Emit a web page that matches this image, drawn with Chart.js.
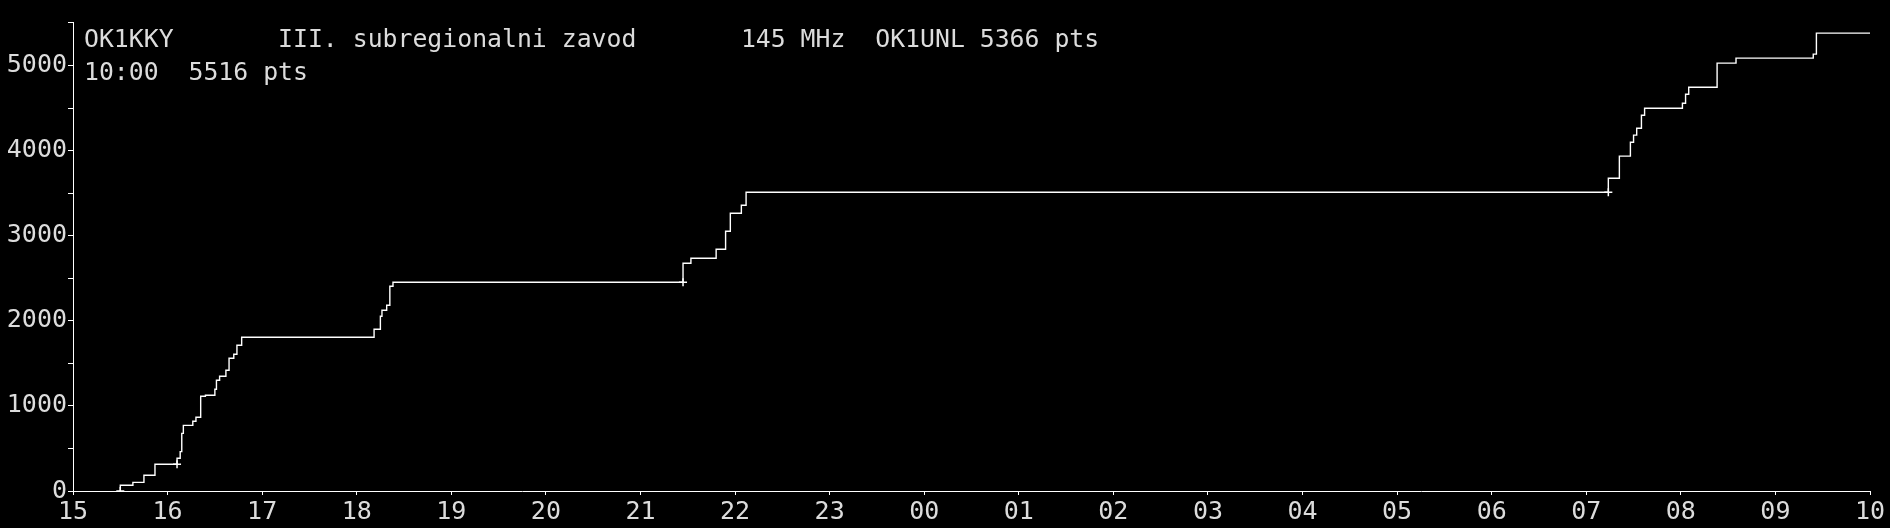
<!DOCTYPE html>
<html>
<head>
<meta charset="utf-8">
<script src="https://cdn.jsdelivr.net/npm/chart.js@4/dist/chart.umd.min.js"></script>
<style>
html,body{margin:0;padding:0;background:#000;overflow:hidden;}
#wrap{width:1890px;height:528px;position:relative;}
</style>
</head>
<body>
<div id="wrap"><canvas id="c"></canvas></div>
<script>
// ---- data ----
const startHour = 15;
const hourLabels = ["15","16","17","18","19","20","21","22","23","00","01","02","03","04","05","06","07","08","09","10"];
const times = ["15:30","15:30","15:38","15:45","15:52","16:06","16:08","16:09","16:10","16:16","16:18","16:21","16:24","16:30","16:31","16:33","16:37","16:39","16:42","16:44","16:47",
  "18:11","18:15","18:16","18:19","18:21","18:23",
  "21:27","21:32","21:48","21:54","21:57","22:04","22:07",
  "07:14","07:21","07:28","07:30","07:32","07:35","07:37","08:01","08:03","08:05","08:23","08:35","09:24","09:26","10:00"];
const scores = [0,67,102,185,314,385,463,678,772,820,867,1114,1126,1196,1302,1349,1420,1561,1608,1714,1808,
  1902,2055,2126,2185,2408,2455,
  2679,2738,2843,3055,3267,3361,3514,
  3679,3938,4102,4185,4267,4420,4502,4561,4667,4749,5032,5091,5138,5385,5385];
const markTimes = ["15:30","16:06","21:27","07:14"];
const markScores = [0,314,2455,3514];
const yTicks = [0,500,1000,1500,2000,2500,3000,3500,4000,4500,5000,5516];
const yMax = 5516;
const titleLine1 = "OK1KKY       III. subregionalni zavod       145 MHz  OK1UNL 5366 pts";
const titleLine2 = "10:00  5516 pts";

function toMin(t){
  const [h,m] = t.split(":").map(Number);
  let hh = h - startHour; if (hh < 0) hh += 24;
  return hh*60 + m;
}
const linePts = times.map((t,i)=>({x:toMin(t), y:scores[i]}));
const markPts = markTimes.map((t,i)=>({x:toMin(t), y:markScores[i]}));

const FONT = '"DejaVu Sans Mono", monospace';
const TXT = '#dcdcdc';

const bgPlugin = {
  id:'bg',
  beforeDraw(chart){
    const ctx = chart.ctx;
    ctx.save(); ctx.fillStyle='#000'; ctx.fillRect(0,0,chart.width,chart.height); ctx.restore();
  },
  afterDraw(chart){
    const ctx = chart.ctx;
    ctx.save();
    ctx.font = '24.8px ' + FONT;
    ctx.fillStyle = TXT;
    ctx.textBaseline = 'alphabetic';
    ctx.textAlign = 'left';
    ctx.fillText(titleLine1, 84, 47);
    ctx.fillText(titleLine2, 84, 80);
    ctx.restore();
  }
};

new Chart(document.getElementById('c'), {
  type:'line',
  data:{
    datasets:[
      {data:linePts, borderColor:'#fff', borderWidth:1.4, stepped:'before', pointRadius:0, fill:false},
      {type:'scatter', data:markPts, borderColor:'#fff', backgroundColor:'#fff', pointStyle:'cross', pointRadius:4, borderWidth:1.5, showLine:false}
    ]
  },
  options:{
    responsive:true, maintainAspectRatio:false, animation:false, devicePixelRatio:1,
    layout:{padding:{top:22,right:20,left:0,bottom:0}},
    plugins:{legend:{display:false}, tooltip:{enabled:false}},
    scales:{
      x:{
        type:'linear', min:0, max:1140,
        afterFit(s){ s.height = 37; },
        afterBuildTicks(s){ s.ticks = hourLabels.map((_,i)=>({value:i*60})); },
        ticks:{
          autoSkip:false, maxRotation:0, padding:2, color:TXT,
          font:{family:FONT, size:25},
          callback:(v)=>hourLabels[Math.round(v/60)]
        },
        grid:{drawOnChartArea:false, drawTicks:true, tickLength:4, color:'#fff', lineWidth:1},
        border:{display:true, color:'#fff', width:1}
      },
      y:{
        min:0, max:yMax,
        afterFit(s){ s.width = 73; },
        afterBuildTicks(s){ s.ticks = yTicks.map(v=>({value:v})); },
        ticks:{
          autoSkip:false, padding:1, color:TXT,
          font:{family:FONT, size:25},
          callback:(v)=> (v%1000===0) ? String(v) : ''
        },
        grid:{drawOnChartArea:false, drawTicks:true, tickLength:5, color:'#fff', lineWidth:1},
        border:{display:true, color:'#fff', width:1}
      }
    }
  },
  plugins:[bgPlugin]
});
</script>
</body>
</html>
